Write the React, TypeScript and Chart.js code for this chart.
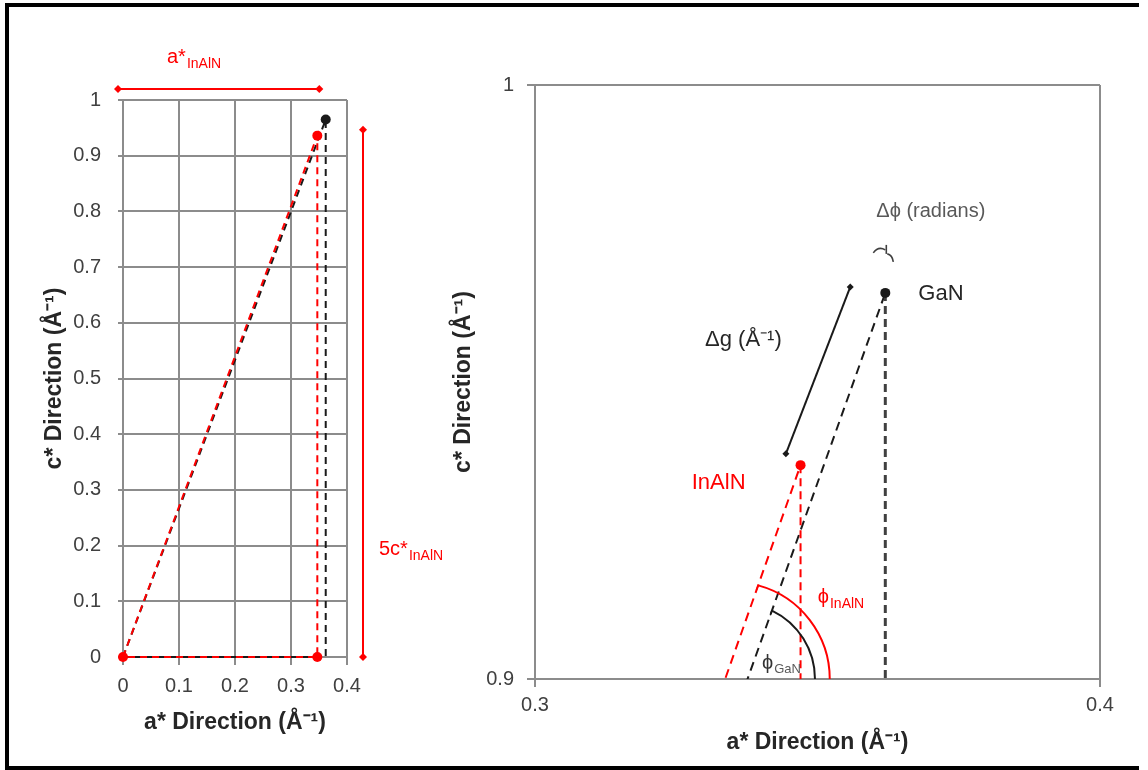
import React, { useEffect, useRef } from "react";
import { Chart, registerables } from "chart.js";

Chart.register(...registerables);

// Reciprocal-lattice points [a*, c*] in Å⁻¹
const GAN = [0.362, 0.965];
const INALN = [0.347, 0.936];

// Full-range plot ticks
const LEFT_X_TICKS = [0, 0.1, 0.2, 0.3, 0.4];
const LEFT_X_LABELS = ["0", "0.1", "0.2", "0.3", "0.4"];
const LEFT_Y_TICKS = [0, 0.1, 0.2, 0.3, 0.4, 0.5, 0.6, 0.7, 0.8, 0.9, 1];
const LEFT_Y_LABELS = ["0", "0.1", "0.2", "0.3", "0.4", "0.5", "0.6", "0.7", "0.8", "0.9", "1"];

// Zoomed plot ticks
const RIGHT_X_TICKS = [0.3, 0.4];
const RIGHT_X_LABELS = ["0.3", "0.4"];
const RIGHT_Y_TICKS = [0.9, 1];
const RIGHT_Y_LABELS = ["0.9", "1"];

// Δg arrow end points [a*, c*]
const DELTA_G_FROM = [0.3444, 0.9379];
const DELTA_G_TO = [0.3558, 0.966];

// Angle arcs: centre on the a* axis of the zoomed plot
const PHI_INALN_ARC_X = 0.335;
const PHI_GAN_ARC_X = 0.3361;

const FONT = '"Liberation Sans", Arial, sans-serif';
const RED = "#ff0000";
const BLACK = "#1a1a1a";
const GRID = "#8c8c8c";
const TICK_COLOR = "#404040";
const TITLE_COLOR = "#262626";
const AXIS_TITLE_X = "a* Direction (Å⁻¹)";
const AXIS_TITLE_Y = "c* Direction (Å⁻¹)";
const PHI = "\u03D5";

type Pt = number[];

const triangle = (p: Pt) => [
  { x: 0, y: 0 },
  { x: p[0], y: p[1] },
  { x: p[0], y: 0 },
  { x: 0, y: 0 },
];

function axis(
  min: number,
  max: number,
  ticks: number[],
  labels: string[],
  titleText: string,
  opts: { width?: number; height?: number; tickLength: number; padding: number }
) {
  return {
    type: "linear",
    min,
    max,
    afterBuildTicks: (s: any) => {
      s.ticks = ticks.map((v) => ({ value: v }));
    },
    afterFit: (s: any) => {
      if (opts.width != null) s.width = opts.width;
      if (opts.height != null) s.height = opts.height;
    },
    grid: { color: GRID, lineWidth: 2, tickLength: opts.tickLength, drawOnChartArea: true },
    border: { color: GRID, width: 2 },
    ticks: {
      font: { family: FONT, size: 20 },
      color: TICK_COLOR,
      padding: opts.padding,
      autoSkip: false,
      maxRotation: 0,
      callback: (_v: any, i: number) => labels[i],
    },
    title: {
      display: true,
      text: titleText,
      font: { family: FONT, size: 23, weight: "bold" },
      color: TITLE_COLOR,
      padding: 0,
    },
  };
}

function seg(ctx: CanvasRenderingContext2D, x1: number, y1: number, x2: number, y2: number) {
  ctx.beginPath();
  ctx.moveTo(x1, y1);
  ctx.lineTo(x2, y2);
  ctx.stroke();
}

function diamond(ctx: CanvasRenderingContext2D, x: number, y: number, s: number) {
  ctx.beginPath();
  ctx.moveTo(x, y - s);
  ctx.lineTo(x + s, y);
  ctx.lineTo(x, y + s);
  ctx.lineTo(x - s, y);
  ctx.closePath();
  ctx.fill();
}

function subText(
  ctx: CanvasRenderingContext2D,
  x: number,
  y: number,
  main: string,
  sub: string,
  mainSize: number,
  subSize: number,
  drop: number,
  color: string,
  subColor?: string
) {
  ctx.textAlign = "left";
  ctx.textBaseline = "alphabetic";
  ctx.fillStyle = color;
  ctx.font = `${mainSize}px ${FONT}`;
  ctx.fillText(main, x, y);
  const w = ctx.measureText(main).width;
  ctx.font = `${subSize}px ${FONT}`;
  ctx.fillStyle = subColor || color;
  ctx.fillText(sub, x + w + 1, y + drop);
}

// Arc from the a* axis up to where it meets the line origin→p
function angleArc(
  ctx: CanvasRenderingContext2D,
  cx: number,
  cy: number,
  r: number,
  o: Pt,
  p: Pt,
  color: string
) {
  const dx = p[0] - o[0];
  const dy = p[1] - o[1];
  const fx = o[0] - cx;
  const fy = o[1] - cy;
  const a = dx * dx + dy * dy;
  const b = 2 * (fx * dx + fy * dy);
  const c = fx * fx + fy * fy - r * r;
  const disc = Math.sqrt(Math.max(b * b - 4 * a * c, 0));
  const cands = [(-b + disc) / (2 * a), (-b - disc) / (2 * a)].map((t) => [o[0] + t * dx, o[1] + t * dy]);
  const q = cands[0][1] < cands[1][1] ? cands[0] : cands[1];
  const start = Math.atan2(q[1] - cy, q[0] - cx);
  ctx.strokeStyle = color;
  ctx.lineWidth = 2;
  ctx.setLineDash([]);
  ctx.beginPath();
  ctx.arc(cx, cy, r, start, 0);
  ctx.stroke();
  const len = Math.hypot(dx, dy);
  ctx.lineWidth = 1.5;
  seg(ctx, q[0], q[1], q[0] - (dx / len) * 5, q[1] - (dy / len) * 5);
}

const leftNotes = {
  id: "leftNotes",
  afterDatasetsDraw(chart: any) {
    const { ctx, chartArea: area, scales } = chart;
    const x = scales.x;
    const y = scales.y;
    ctx.save();
    ctx.setLineDash([]);
    ctx.strokeStyle = RED;
    ctx.fillStyle = RED;
    ctx.lineWidth = 2;

    // a* span above the plot
    const ay = area.top - 11;
    const ax1 = x.getPixelForValue(0) - 5;
    const ax2 = x.getPixelForValue(INALN[0]) + 2;
    seg(ctx, ax1, ay, ax2, ay);
    diamond(ctx, ax1, ay, 4);
    diamond(ctx, ax2, ay, 4);
    subText(ctx, ax1 + 49, area.top - 37, "a*", "InAlN", 20, 14, 5, RED);

    // 5c* span to the right of the plot
    const vx = area.right + 16;
    const vy1 = y.getPixelForValue(INALN[1]) - 6;
    const vy2 = y.getPixelForValue(0);
    seg(ctx, vx, vy1, vx, vy2);
    diamond(ctx, vx, vy1, 4);
    diamond(ctx, vx, vy2, 4);
    subText(ctx, vx + 16, area.bottom - 102, "5c*", "InAlN", 20, 14, 5, RED);
    ctx.restore();
  },
};

const rightNotes = {
  id: "rightNotes",
  afterDatasetsDraw(chart: any) {
    const { ctx, chartArea: area, scales } = chart;
    const x = scales.x;
    const y = scales.y;
    const px = (p: Pt) => [x.getPixelForValue(p[0]), y.getPixelForValue(p[1])];
    const o = px([0, 0]);
    const g = px(GAN);
    const inp = px(INALN);
    const base = area.bottom;
    ctx.save();

    // angle arcs
    const redCx = x.getPixelForValue(PHI_INALN_ARC_X);
    const blackCx = x.getPixelForValue(PHI_GAN_ARC_X);
    angleArc(ctx, redCx, base, 97, o, inp, RED);
    angleArc(ctx, blackCx, base, 76, o, g, BLACK);

    // Δg arrow
    const d1 = px(DELTA_G_FROM);
    const d2 = px(DELTA_G_TO);
    ctx.setLineDash([]);
    ctx.strokeStyle = BLACK;
    ctx.fillStyle = BLACK;
    ctx.lineWidth = 2;
    seg(ctx, d1[0], d1[1], d2[0], d2[1]);
    diamond(ctx, d1[0], d1[1], 3.5);
    diamond(ctx, d2[0], d2[1], 3.5);

    // Δϕ mark between the two directions
    ctx.strokeStyle = "#404040";
    ctx.lineWidth = 1.6;
    ctx.beginPath();
    ctx.moveTo(g[0] - 12, g[1] - 40);
    ctx.quadraticCurveTo(g[0] - 7, g[1] - 47, g[0], g[1] - 43);
    ctx.stroke();
    seg(ctx, g[0] + 1, g[1] - 48, g[0] + 1, g[1] - 39);
    ctx.beginPath();
    ctx.moveTo(g[0] + 2, g[1] - 39);
    ctx.quadraticCurveTo(g[0] + 7, g[1] - 38, g[0] + 8, g[1] - 31);
    ctx.stroke();

    // Labels
    ctx.textBaseline = "middle";
    ctx.textAlign = "left";
    ctx.font = `20px ${FONT}`;
    ctx.fillStyle = "#595959";
    ctx.fillText(`Δ${PHI} (radians)`, g[0] - 9, g[1] - 81);

    ctx.font = `22px ${FONT}`;
    ctx.fillStyle = TITLE_COLOR;
    ctx.fillText("GaN", g[0] + 33, g[1] + 1);

    const mid = [(d1[0] + d2[0]) / 2, (d1[1] + d2[1]) / 2];
    ctx.fillText("Δg (Å⁻¹)", mid[0] - 113, mid[1] - 30);

    ctx.fillStyle = RED;
    ctx.textAlign = "right";
    ctx.fillText("InAlN", inp[0] - 55, inp[1] + 18);

    subText(ctx, redCx + 85, base - 76, PHI, "InAlN", 20, 14, 5, RED);
    subText(ctx, blackCx + 23, base - 10, PHI, "GaN", 20, 13, 4, "#333333", "#595959");
    ctx.restore();
  },
};

function baseOptions(padding: any, scales: any) {
  return {
    responsive: false,
    animation: false,
    devicePixelRatio: 1,
    events: [],
    layout: { padding },
    plugins: { legend: { display: false }, tooltip: { enabled: false } },
    scales,
  };
}

export default function App() {
  const leftRef = useRef<HTMLCanvasElement>(null);
  const rightRef = useRef<HTMLCanvasElement>(null);

  useEffect(() => {
    const left = new Chart(leftRef.current as HTMLCanvasElement, {
      type: "scatter",
      data: {
        datasets: [
          {
            label: "InAlN",
            data: triangle(INALN),
            showLine: true,
            borderColor: RED,
            backgroundColor: RED,
            borderWidth: 2,
            borderDash: [7, 5],
            pointRadius: [5, 5, 5, 0],
            pointBorderWidth: 0,
            clip: 10,
          },
          {
            label: "GaN",
            data: triangle(GAN),
            showLine: true,
            borderColor: BLACK,
            backgroundColor: BLACK,
            borderWidth: 2,
            borderDash: [7, 5],
            pointRadius: [0, 5, 0, 0],
            pointBorderWidth: 0,
            clip: 10,
          },
        ],
      },
      options: baseOptions(
        { left: 41, top: 100, right: 133, bottom: 34 },
        {
          x: axis(0, 0.4, LEFT_X_TICKS, LEFT_X_LABELS, AXIS_TITLE_X, { height: 79, tickLength: 8, padding: 9 }),
          y: axis(0, 1, LEFT_Y_TICKS, LEFT_Y_LABELS, AXIS_TITLE_Y, { width: 82, tickLength: 5, padding: 17 }),
        }
      ) as any,
      plugins: [leftNotes],
    });

    const right = new Chart(rightRef.current as HTMLCanvasElement, {
      type: "scatter",
      data: {
        datasets: [
          {
            label: "InAlN",
            data: triangle(INALN),
            showLine: true,
            borderColor: RED,
            backgroundColor: RED,
            borderWidth: 2,
            borderDash: [9, 6],
            pointRadius: [0, 5, 0, 0],
            pointBorderWidth: 0,
            segment: {
              borderDash: (c: any) => (c.p0DataIndex === 1 ? [8, 5] : [9, 6]),
            },
          },
          {
            label: "GaN",
            data: triangle(GAN),
            showLine: true,
            borderColor: BLACK,
            backgroundColor: BLACK,
            borderWidth: 2,
            borderDash: [9, 6],
            pointRadius: [0, 5, 0, 0],
            pointBorderWidth: 0,
            segment: {
              borderWidth: (c: any) => (c.p0DataIndex === 1 ? 3 : 2),
              borderColor: (c: any) => (c.p0DataIndex === 1 ? "#404040" : BLACK),
              borderDash: (c: any) => (c.p0DataIndex === 1 ? [8, 5] : [9, 6]),
            },
          },
        ],
      },
      options: baseOptions(
        { left: 20, top: 85, right: 48, bottom: 14 },
        {
          x: axis(0.3, 0.4, RIGHT_X_TICKS, RIGHT_X_LABELS, AXIS_TITLE_X, { height: 77, tickLength: 8, padding: 6 }),
          y: axis(0.9, 1, RIGHT_Y_TICKS, RIGHT_Y_LABELS, AXIS_TITLE_Y, { width: 85, tickLength: 8, padding: 13 }),
        }
      ) as any,
      plugins: [rightNotes],
    });

    return () => {
      left.destroy();
      right.destroy();
    };
  }, []);

  return (
    <div
      style={{
        position: "absolute",
        left: 0,
        top: 0,
        width: 1148,
        height: 770,
        background: "#ffffff",
        overflow: "hidden",
      }}
    >
      <div
        style={{
          position: "absolute",
          left: 5,
          top: 3,
          width: 1134,
          height: 767,
          boxSizing: "border-box",
          borderTop: "4px solid #000",
          borderLeft: "4px solid #000",
          borderBottom: "4px solid #000",
        }}
      />
      <canvas
        ref={leftRef}
        width={480}
        height={770}
        style={{ position: "absolute", left: 0, top: 0 }}
      />
      <canvas
        ref={rightRef}
        width={718}
        height={770}
        style={{ position: "absolute", left: 430, top: 0 }}
      />
    </div>
  );
}
